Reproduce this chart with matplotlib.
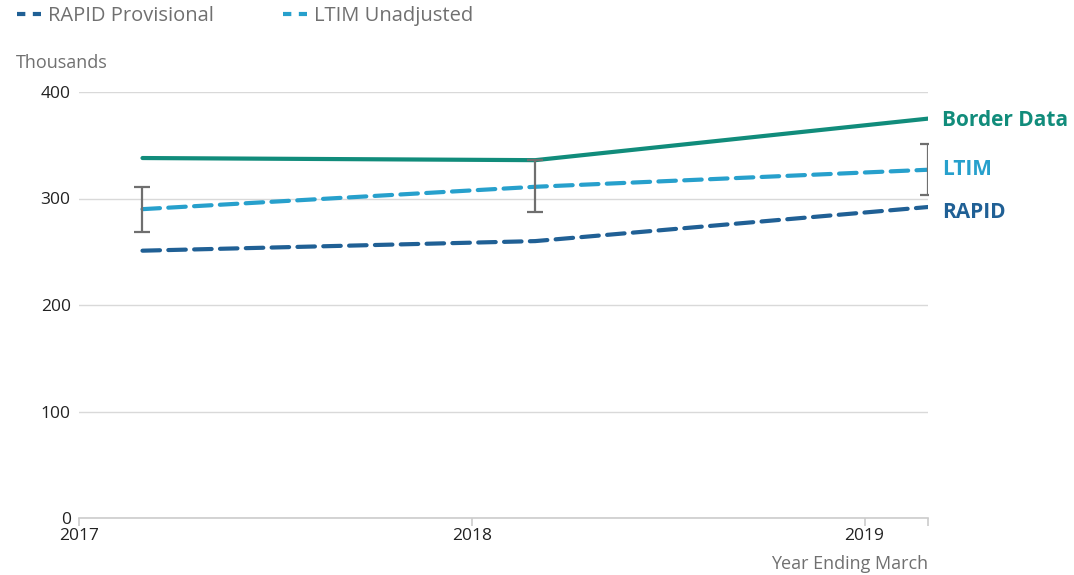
import datetime as dt
import matplotlib
matplotlib.use("Agg")
from matplotlib import pyplot as plt
import matplotlib.dates as mdates
from matplotlib.lines import Line2D

plt.rcParams['font.family'] = ['Open Sans', 'DejaVu Sans']

# Data (thousands), year ending March
dates = [dt.date(2017, 3, 1), dt.date(2018, 3, 1), dt.date(2019, 3, 1)]
border = [338, 336, 375]
ltim = [290, 311, 327]
rapid = [251, 260, 292]
ltim_low = [269, 287, 303]
ltim_high = [311, 336, 351]

c_border = '#118c7b'
c_ltim = '#27a0cc'
c_rapid = '#206095'
c_text = '#707070'

fig = plt.figure(figsize=(10.74, 5.75), dpi=100)
ax = fig.add_axes([79 / 1074, 1 - 518 / 575, (928 - 79) / 1074, (518 - 92) / 575])

dash = (0, (4.2, 2.0))
ax.plot(dates, border, color=c_border, lw=3.0, solid_capstyle='round', zorder=3)
ax.plot(dates, ltim, color=c_ltim, lw=3.0, linestyle=dash, dash_capstyle='round', zorder=3)
ax.plot(dates, rapid, color=c_rapid, lw=3.0, linestyle=dash, dash_capstyle='round', zorder=3)

err_lo = [m - l for m, l in zip(ltim, ltim_low)]
err_hi = [h - m for m, h in zip(ltim, ltim_high)]
ax.errorbar(dates, ltim, yerr=[err_lo, err_hi], fmt='none', ecolor='#6f6f6f',
            elinewidth=1.6, capsize=6, capthick=1.6, zorder=4)

# end labels
lab = dict(textcoords='offset points', va='center', ha='left', fontsize=15,
           fontweight='bold', annotation_clip=False)
ax.annotate('Border Data', (dates[-1], border[-1]), xytext=(10, -1.5), color=c_border, **lab)
ax.annotate('LTIM', (dates[-1], ltim[-1]), xytext=(10, 0), color=c_ltim, **lab)
ax.annotate('RAPID', (dates[-1], rapid[-1] - 2), xytext=(10, -2.5), color=c_rapid, **lab)

ax.set_ylim(0, 400)
ax.set_yticks([0, 100, 200, 300, 400])
ax.set_xlim(dt.date(2017, 1, 1), dates[-1])
ticks = [mdates.date2num(dt.date(y, 1, 1)) for y in (2017, 2018, 2019)]
ax.set_xticks(ticks + [mdates.date2num(dates[-1])])
ax.set_xticklabels(['2017', '2018', '2019', ''])

ax.grid(axis='y', color='#d9d9d9', lw=1)
ax.set_axisbelow(True)
for s in ['top', 'right', 'left']:
    ax.spines[s].set_visible(False)
ax.spines['bottom'].set_color('#cccccc')
ax.spines['bottom'].set_linewidth(1.2)
ax.tick_params(axis='y', length=0, labelsize=12.5, labelcolor='#222222', pad=6)
ax.tick_params(axis='x', length=6, width=1.2, color='#cccccc', labelsize=12.5,
               labelcolor='#222222', pad=1)

fig.text(16 / 1074, 1 - 63 / 575, 'Thousands', color=c_text, fontsize=13, va='center', ha='left')
fig.text(928 / 1074, 1 - 564 / 575, 'Year Ending March', color=c_text, fontsize=13,
         va='center', ha='right')

handles = [Line2D([], [], color=c_rapid, lw=3.0, linestyle=(0, (2.0, 1.8))),
           Line2D([], [], color=c_ltim, lw=3.0, linestyle=(0, (2.0, 1.8)))]
fig.legend(handles, ['RAPID Provisional', 'LTIM Unadjusted'], loc='center left',
           bbox_to_anchor=(17 / 1074, 1 - 16 / 575), ncol=2, frameon=False, fontsize=14.5,
           handlelength=1.2, handletextpad=0.35, columnspacing=3.4, labelcolor=c_text,
           borderpad=0, borderaxespad=0)

fig.savefig('out.png', dpi=100)
